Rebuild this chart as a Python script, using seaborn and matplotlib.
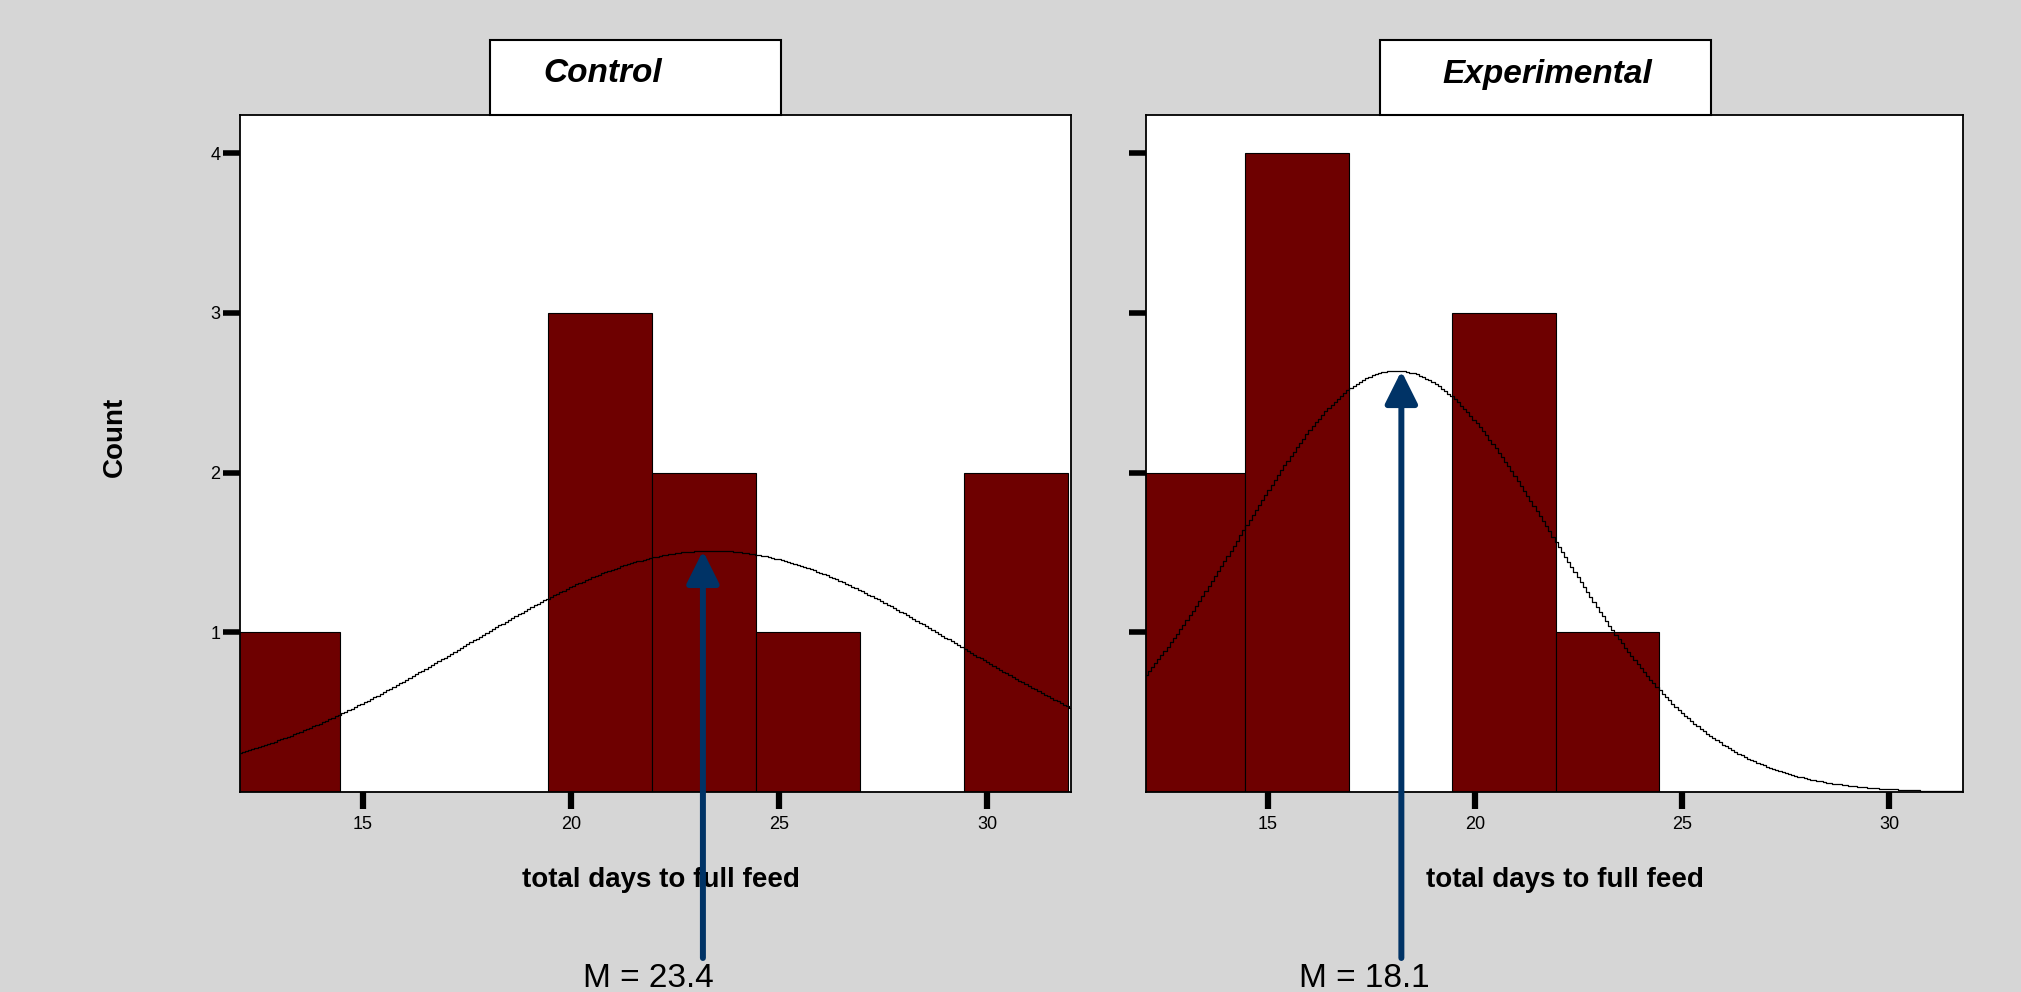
###########################################################################################
# imports
import numpy as np
import seaborn as sns
import matplotlib
matplotlib.use('Agg')
import matplotlib.pyplot as plt
from matplotlib.patches import Rectangle

###########################################################################################
# data

groups = ['Control', 'Experimental']
bin_edges = [11.95, 14.45, 16.95, 19.45, 21.95, 24.45, 26.95, 29.45, 31.95]
control_counts = [1, 0, 0, 3, 2, 1, 0, 2]
experimental_counts = [2, 4, 0, 3, 1, 0, 0, 0]
group_means = [23.4, 18.1]
group_sds = [5.94, 3.78]
mean_labels = ['M = 23.4', 'M = 18.1']
arrow_x = [23.17, 18.22]
x_ticks = [15, 20, 25, 30]
y_ticks = [1, 2, 3, 4]
x_label = 'total days to full feed'
y_label = 'Count'

###########################################################################################
# styling

W, H = 2021, 992
bg = '#d6d6d6'
bar_color = '#6e0000'
arrow_color = '#003366'
narrow = ['Liberation Sans Narrow', 'Liberation Sans', 'DejaVu Sans']
plt.rcParams['font.family'] = ['Liberation Sans', 'DejaVu Sans']


def fx(px):
    return px / W


def fy(py):
    return 1 - py / H


def normal_curve(xs, mean, sd, n, width):
    # fitted normal curve scaled to counts
    return n * width / (sd * np.sqrt(2 * np.pi)) * np.exp(-0.5 * ((xs - mean) / sd) ** 2)


###########################################################################################
# plotting

fig = plt.figure(figsize=(W / 100, H / 100), dpi=100, facecolor=bg)

# axes boxes in pixels: left, right, top, bottom
boxes = [(240, 1071, 115, 792), (1146, 1963, 115, 792)]
xlims = [(12.04, 32.02), (12.05, 31.79)]
title_boxes = [(490, 781, 40, 115), (1380, 1711, 40, 115)]
title_x = [603, 1547]
label_x = [661, 1565]
text_x = [648, 1364]

counts_all = [control_counts, experimental_counts]
centers = [(a + b) / 2 for a, b in zip(bin_edges[:-1], bin_edges[1:])]
bin_w = bin_edges[1] - bin_edges[0]

for i, group in enumerate(groups):
    l, r, t, b = boxes[i]
    ax = fig.add_axes([fx(l), fy(b), fx(r) - fx(l), fy(t) - fy(b)])
    ax.set_facecolor('white')

    sns.histplot(x=centers, weights=counts_all[i], bins=bin_edges, ax=ax,
                 color=bar_color, alpha=1, edgecolor='black', linewidth=0.8)

    # normal curve, drawn stepped
    xs = np.linspace(xlims[i][0], xlims[i][1], 260)
    ys = normal_curve(xs, group_means[i], group_sds[i], sum(counts_all[i]), bin_w)
    ax.plot(xs, ys, color='black', lw=0.9, drawstyle='steps-mid')

    ax.set_xlim(*xlims[i])
    ax.set_ylim(0, 4.24)
    ax.set_xticks(x_ticks)
    ax.set_xticklabels([str(v) for v in x_ticks])
    ax.set_yticks(y_ticks)
    if i == 0:
        ax.set_yticklabels([str(v) for v in y_ticks])
    else:
        ax.set_yticklabels([])
    ax.tick_params(axis='x', length=12, width=4.5, color='black',
                   labelsize=13, pad=5)
    ax.tick_params(axis='y', length=12, width=4, color='black',
                   labelsize=13, pad=2)
    for sp in ax.spines.values():
        sp.set_color('black')
        sp.set_linewidth(1.3)

    ax.set_ylabel('')
    ax.set_xlabel(x_label, fontsize=20, fontweight='bold')
    ax.xaxis.label.set_va('center')
    ax.xaxis.set_label_coords((label_x[i] - l) / (r - l), -(880 - b) / (b - t))

    # title box
    tl, tr, tt, tb = title_boxes[i]
    fig.add_artist(Rectangle((fx(tl), fy(tb)), fx(tr) - fx(tl), fy(tt) - fy(tb),
                             transform=fig.transFigure, facecolor='white',
                             edgecolor='black', lw=1.5, zorder=5))
    fig.text(fx(title_x[i]), fy(74), group, fontsize=24, fontweight='bold',
             fontstyle='italic', family=narrow, ha='center', va='center', zorder=6)

    # mean arrow from below the axes up to the curve
    peak = normal_curve(np.array(arrow_x[i]), group_means[i], group_sds[i],
                        sum(counts_all[i]), bin_w)
    ax.annotate('', xy=(arrow_x[i], float(peak)), xycoords='data',
                xytext=(arrow_x[i], fy(958)), textcoords=('data', 'figure fraction'),
                arrowprops=dict(arrowstyle='-|>,head_length=0.9,head_width=0.45',
                                mutation_scale=22, color=arrow_color, lw=4.3,
                                shrinkA=0, shrinkB=0),
                annotation_clip=False, zorder=10)
    fig.text(fx(text_x[i]), fy(987), mean_labels[i], fontsize=24, family=narrow,
             ha='center', va='baseline')

fig.text(fx(115), fy(437), y_label, fontsize=20, fontweight='bold',
         rotation=90, ha='center', va='center')

fig.savefig('out.png', dpi=100, facecolor=bg)
